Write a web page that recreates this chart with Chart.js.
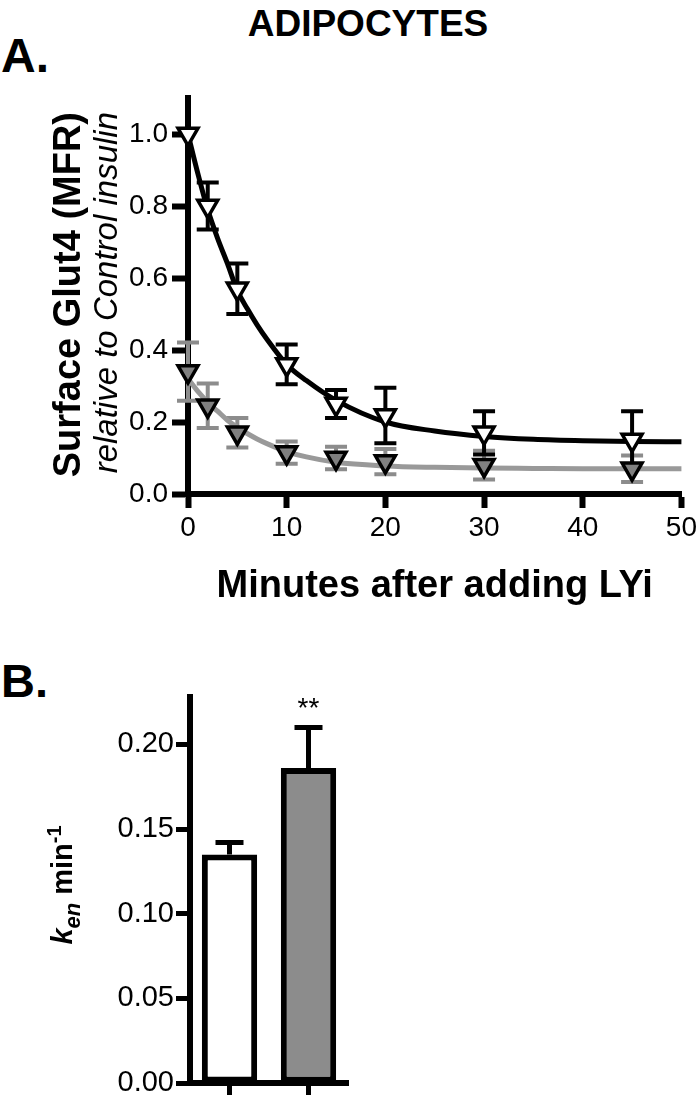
<!DOCTYPE html>
<html>
<head>
<meta charset="utf-8">
<script src="https://cdn.jsdelivr.net/npm/chart.js@4.4.1/dist/chart.umd.min.js"></script>
<style>
  html, body { margin: 0; padding: 0; background: #fff; }
  body { width: 700px; height: 1110px; position: relative; overflow: hidden; font-family: "Liberation Sans", Arial, sans-serif; color: #000; }
  .abs { position: absolute; white-space: nowrap; }
  .rot { transform-origin: 0 0; transform: rotate(-90deg); }
  #chartA { position: absolute; left: 0; top: 0; }
  #chartB { position: absolute; left: 0; top: 620px; }
</style>
</head>
<body>
<div class="abs" style="left:0;top:5px;width:736px;text-align:center;font:bold 37px/37px 'Liberation Sans'">ADIPOCYTES</div>
<div class="abs" style="left:1px;top:32px;font:bold 48px/48px 'Liberation Sans'">A.</div>
<div class="abs" style="left:1px;top:657px;font:bold 47px/47px 'Liberation Sans'">B.</div>

<canvas id="chartA" width="700" height="610"></canvas>
<canvas id="chartB" width="400" height="490"></canvas>

<div class="abs rot" style="left:48px;top:512px;width:400px;height:38px;text-align:right;font:bold 38px/38px 'Liberation Sans'">Surface Glut4 (MFR)</div>
<div class="abs rot" style="left:89px;top:512px;width:400px;height:33px;text-align:right;font:italic 33px/33px 'Liberation Sans'">relative to Control insulin</div>
<div class="abs rot" style="left:48px;top:1035px;width:300px;height:29px;text-align:center;font:bold 29px/29px 'Liberation Sans'"><i>k</i><span style="position:relative;top:8px;font-size:22px"><i>en</i></span> min<span style="position:relative;top:-11px;font-size:20px">-1</span></div>

<script>
// panel A: surface Glut4 after LY294002
const minutes = [0, 2, 5, 10, 15, 20, 30, 45];
const controlMean = [1.0, 0.80, 0.57, 0.36, 0.25, 0.218, 0.17, 0.15];
const controlSem = [0, 0.065, 0.07, 0.055, 0.039, 0.077, 0.06, 0.08];
const lyiMean = [0.34, 0.245, 0.17, 0.115, 0.10, 0.09, 0.08, 0.07];
const lyiSem = [0.081, 0.062, 0.041, 0.031, 0.031, 0.035, 0.04, 0.037];

// fitted decay curves
const fitMinutes = [0, 1, 2, 3, 4, 5, 6, 7, 8, 10, 12, 15, 20, 25, 30, 35, 40, 45, 50];
const controlFit = [1.0, 0.89, 0.79, 0.71, 0.64, 0.565, 0.515, 0.47, 0.43, 0.36, 0.315, 0.26, 0.20, 0.175, 0.16, 0.152, 0.148, 0.146, 0.145];
const lyiFit = [0.32, 0.285, 0.255, 0.23, 0.205, 0.185, 0.168, 0.153, 0.14, 0.118, 0.103, 0.088, 0.078, 0.074, 0.072, 0.071, 0.07, 0.07, 0.07];

const ticksAx = [0, 10, 20, 30, 40, 50];
const ticksAy = [0, 0.2, 0.4, 0.6, 0.8, 1.0];

// panel B: endocytic rate constant
const groupsB = ['Control', 'LYi'];
const kenMean = [0.135, 0.186];
const kenSem = [0.007, 0.024];
const sigB = ['', '**'];
const ticksBy = [0, 0.05, 0.10, 0.15, 0.20];

const FONT = 'Liberation Sans';
const GRAY = '#8c8c8c';

const toPoints = (xs, ys) => xs.map((x, i) => ({x, y: ys[i]}));

const errorBarsA = {
  id: 'errorBarsA',
  beforeDatasetsDraw(chart) {
    const {ctx, scales: {x, y}} = chart;
    const draw = (means, sems, color) => {
      ctx.save();
      ctx.strokeStyle = color;
      ctx.lineWidth = 4;
      means.forEach((m, i) => {
        if (!sems[i]) {
          return;
        }
        const px = x.getPixelForValue(minutes[i]);
        const top = y.getPixelForValue(m + sems[i]);
        const bot = y.getPixelForValue(m - sems[i]);
        ctx.beginPath();
        ctx.moveTo(px, top);
        ctx.lineTo(px, bot);
        ctx.moveTo(px - 11, top);
        ctx.lineTo(px + 11, top);
        ctx.moveTo(px - 11, bot);
        ctx.lineTo(px + 11, bot);
        ctx.stroke();
      });
      ctx.restore();
    };
    draw(lyiMean, lyiSem, GRAY);
    draw(controlMean, controlSem, '#000');
  }
};

new Chart(document.getElementById('chartA'), {
  type: 'scatter',
  data: {
    datasets: [
      {
        data: toPoints(minutes, controlMean),
        pointStyle: 'triangle',
        rotation: 180,
        pointRadius: 11.5,
        pointHoverRadius: 11.5,
        backgroundColor: '#fff',
        borderColor: '#000',
        borderWidth: 3.5,
        clip: false,
        order: 0
      },
      {
        data: toPoints(minutes, lyiMean),
        pointStyle: 'triangle',
        rotation: 180,
        pointRadius: 11.5,
        pointHoverRadius: 11.5,
        backgroundColor: '#808080',
        borderColor: '#000',
        borderWidth: 3.5,
        clip: false,
        order: 1
      },
      {
        data: toPoints(fitMinutes, controlFit),
        showLine: true,
        pointRadius: 0,
        borderColor: '#000',
        borderWidth: 5,
        cubicInterpolationMode: 'monotone',
        clip: false,
        order: 2
      },
      {
        data: toPoints(fitMinutes, lyiFit),
        showLine: true,
        pointRadius: 0,
        borderColor: '#999',
        borderWidth: 5,
        cubicInterpolationMode: 'monotone',
        clip: false,
        order: 3
      }
    ]
  },
  options: {
    responsive: false,
    animation: false,
    devicePixelRatio: 1,
    layout: {padding: {top: 98, right: 16, left: 0, bottom: 0}},
    plugins: {legend: {display: false}, tooltip: {enabled: false}},
    scales: {
      x: {
        type: 'linear',
        min: 0,
        max: 50,
        afterBuildTicks: (scale) => {
          scale.ticks = ticksAx.map((v) => ({value: v}));
        },
        afterFit: (scale) => {
          scale.height = 116;
        },
        grid: {drawOnChartArea: false, tickLength: 14, tickWidth: 6, tickColor: '#000'},
        border: {color: '#000', width: 6},
        ticks: {color: '#000', padding: 3, font: {family: FONT, size: 28}},
        title: {
          display: true,
          text: 'Minutes after adding LYi',
          color: '#000',
          padding: {top: 0, bottom: 1},
          font: {family: FONT, size: 38, weight: 'bold'}
        }
      },
      y: {
        min: 0,
        max: 1.1,
        afterBuildTicks: (scale) => {
          scale.ticks = ticksAy.map((v) => ({value: v}));
        },
        afterFit: (scale) => {
          scale.width = 188;
        },
        grid: {drawOnChartArea: false, tickLength: 16, tickWidth: 6, tickColor: '#000'},
        border: {color: '#000', width: 6},
        ticks: {
          color: '#000',
          padding: 4,
          font: {family: FONT, size: 28},
          callback: (v) => v.toFixed(1)
        }
      }
    }
  },
  plugins: [errorBarsA]
});

const errorBarsB = {
  id: 'errorBarsB',
  afterDatasetsDraw(chart) {
    const {ctx, scales: {x, y}} = chart;
    ctx.save();
    ctx.strokeStyle = '#000';
    ctx.lineWidth = 5;
    ctx.fillStyle = '#000';
    ctx.font = `28px ${FONT}`;
    ctx.textAlign = 'center';
    ctx.textBaseline = 'alphabetic';
    kenMean.forEach((m, i) => {
      const px = x.getPixelForValue(i);
      const barTop = y.getPixelForValue(m);
      const top = y.getPixelForValue(m + kenSem[i]);
      ctx.beginPath();
      ctx.moveTo(px, barTop);
      ctx.lineTo(px, top);
      ctx.moveTo(px - 14, top);
      ctx.lineTo(px + 14, top);
      ctx.stroke();
      if (sigB[i]) {
        ctx.fillText(sigB[i], px, top - 10);
      }
    });
    ctx.restore();
  }
};

new Chart(document.getElementById('chartB'), {
  type: 'bar',
  data: {
    labels: groupsB,
    datasets: [{
      data: kenMean,
      backgroundColor: ['#fff', GRAY],
      borderColor: '#000',
      borderWidth: 6,
      borderSkipped: false,
      barPercentage: 0.7,
      categoryPercentage: 1
    }]
  },
  options: {
    responsive: false,
    animation: false,
    devicePixelRatio: 1,
    layout: {padding: {top: 77, right: 52, left: 0, bottom: 0}},
    plugins: {legend: {display: false}, tooltip: {enabled: false}},
    scales: {
      x: {
        afterFit: (scale) => {
          scale.height = 27;
        },
        grid: {drawOnChartArea: false, offset: false, tickLength: 12, tickWidth: 5, tickColor: '#000'},
        border: {color: '#000', width: 6},
        ticks: {callback: () => ''}
      },
      y: {
        min: 0,
        max: 0.228,
        afterBuildTicks: (scale) => {
          scale.ticks = ticksBy.map((v) => ({value: v}));
        },
        afterFit: (scale) => {
          scale.width = 190;
        },
        grid: {drawOnChartArea: false, tickLength: 14, tickWidth: 5, tickColor: '#000'},
        border: {color: '#000', width: 6},
        ticks: {
          color: '#000',
          padding: 2,
          font: {family: FONT, size: 29},
          callback: (v) => v.toFixed(2)
        }
      }
    }
  },
  plugins: [errorBarsB]
});
</script>
</body>
</html>
